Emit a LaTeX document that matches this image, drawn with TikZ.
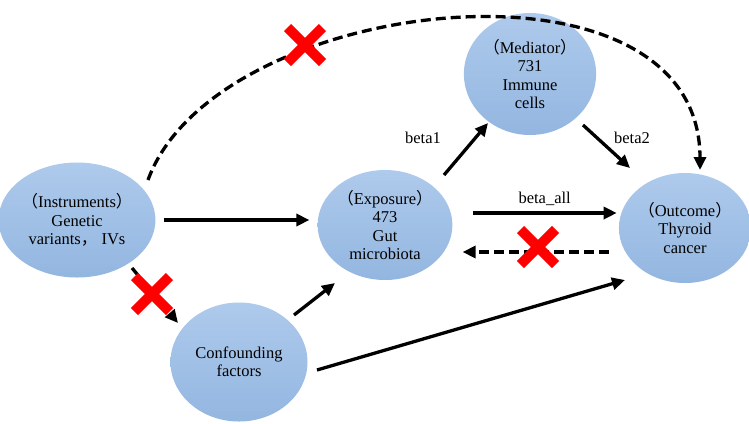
\documentclass[tikz,border=0pt]{standalone}
\usepackage{fontspec}
\setmainfont{Liberation Serif}
\newfontfamily\cjk{Noto Sans CJK SC}
\usepackage{tikz}
\usetikzlibrary{positioning}
\usetikzlibrary{arrows.meta,shapes}
\usetikzlibrary{shapes.geometric,shapes.misc}
\usetikzlibrary{calc}
\newcommand{\fwlp}{{\cjk （}}
\newcommand{\fwrp}{{\cjk ）}}
\newcommand{\fwcomma}{{\cjk ，}}
\definecolor{bubbletop}{RGB}{174,202,236}
\definecolor{bubblebot}{RGB}{147,182,224}
\tikzstyle{bubble}=[ellipse,top color=bubbletop,bottom color=bubblebot,draw=none,inner sep=0pt,align=center,font=\fontsize{16.5bp}{18.5bp}\selectfont]
\tikzstyle{edge} = [draw,line width=3.3bp,-{Triangle[length=13bp,width=12bp]}]
\tikzstyle{dashededge} = [edge,dash pattern=on 10bp off 5bp]
\tikzstyle{weight} = [font=\fontsize{16.5bp}{18bp}\selectfont]
\tikzstyle{crossmark} = [cross out,draw=red,line width=10bp,minimum size=25bp,inner sep=0pt]

\begin{document}
\begin{tikzpicture}[x=1bp,y=-1bp]
    \useasboundingbox (0,0) rectangle (749,423);
    % First we draw the vertices
    \foreach \pos/\name/\w/\h/\label in {{(77,220)/ins/155/115/\fwlp Instruments\fwrp\\Genetic\\variants\fwcomma\ IVs},
    {(385,225)/exp/120/110/\fwlp Exposure\fwrp\\473\\Gut\\microbiota},
    {(530,74)/med/116/122/\fwlp Mediator\fwrp\\731\\Immune\\cells},
    {(685,228)/out/126/110/\fwlp Outcome\fwrp\\Thyroid\\cancer},
    {(239,362)/conf/137/119/Confounding\\factors}}
        \node[bubble,minimum width=\w bp,minimum height=\h bp] (\name) at \pos {\label};

    % Connect vertices with edges and draw weights
    \path[edge] ([xshift=8bp]ins.east) -- ([xshift=-8bp]ins.east -| exp.west);
    \path[edge] ([shift={(20bp,12bp)}]exp.east) -- node[weight,above=2bp] {beta\_all} ([shift={(-2bp,12bp)}]exp.east -| out.west);
    \path[dashededge] ([shift={(-10bp,-24bp)}]out.west) -- ([shift={(10bp,-24bp)}]out.west -| exp.east);
    \path[edge] ($(exp)+(59,-50)$) -- ($(med)+(-42,49)$);
    \path[edge] ($(med)+(53,51)$) -- ($(out)+(-55,-60)$);
    \path[edge] ($(conf)+(55,-47)$) -- ($(exp)+(-50,58)$);
    \path[edge] ($(conf)+(78,8)$) -- ($(out)+(-60,52)$);
    \path[dashededge] ($(ins)+(55,48)$) -- ($(conf)+(-61,-39)$);
    \path[dashededge] ($(ins)+(71,-40)$) .. controls (215,-5) and (700,-60) .. ($(out)+(15,-58)$);

    \node[weight] (b1) at (423,138) {beta1};
    \node[weight] (b2) at (632,138) {beta2};

    % crossed out paths
    \foreach \pos/\name in {{(305,45)/x1}, {(538,247)/x2}, {(152,294)/x3}}
        \node[crossmark] (\name) at \pos {};
\end{tikzpicture}
\end{document}
